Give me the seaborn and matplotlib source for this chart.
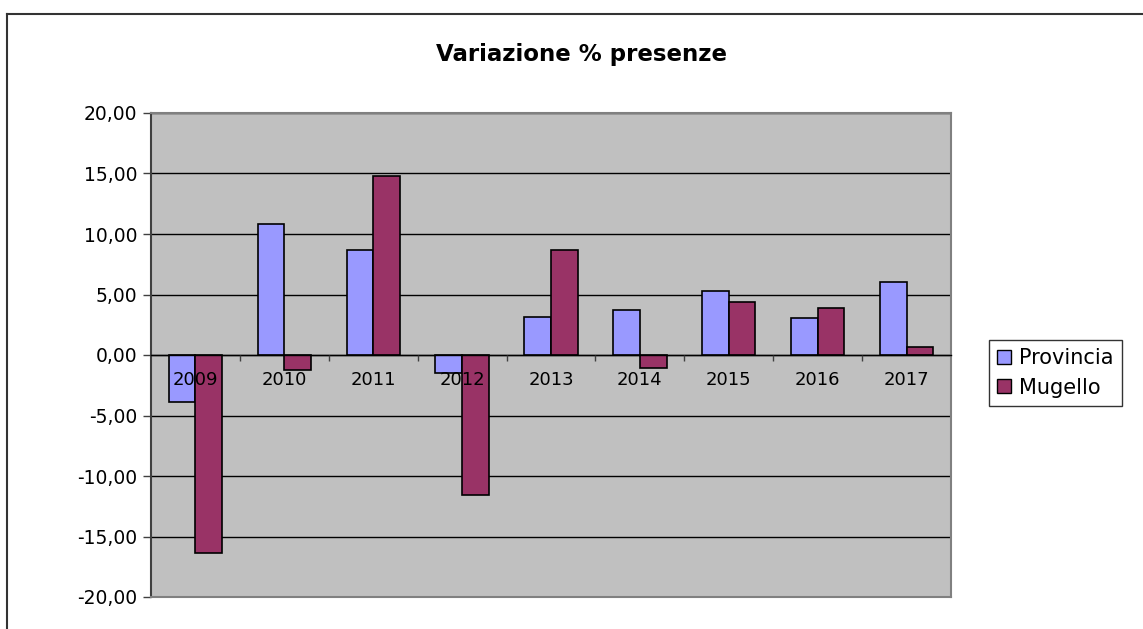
import matplotlib
matplotlib.use("Agg")
import matplotlib.pyplot as plt
from matplotlib.lines import Line2D
from matplotlib.ticker import FuncFormatter, MultipleLocator, FixedLocator
import numpy as np
import pandas as pd
import seaborn as sns

# Annual percentage change in overnight stays
years = ["2009", "2010", "2011", "2012", "2013", "2014", "2015", "2016", "2017"]
provincia = [-3.85, 10.8, 8.7, -1.5, 3.1, 3.7, 5.25, 3.05, 6.0]
mugello = [-16.4, -1.2, 14.8, -11.55, 8.7, -1.1, 4.4, 3.85, 0.65]
series_names = ["Provincia", "Mugello"]
colors = ["#9999FF", "#993366"]

df = pd.DataFrame({
    "anno": years * 2,
    "serie": [series_names[0]] * len(years) + [series_names[1]] * len(years),
    "valore": provincia + mugello,
})

plt.rcParams["font.family"] = ["DejaVu Sans"]

W, H = 1143, 629
fig = plt.figure(figsize=(W / 100, H / 100), dpi=100)
fig.patch.set_facecolor("white")

ax = fig.add_axes([151 / W, 1 - 597 / H, (951 - 151) / W, (597 - 113) / H])
ax.set_facecolor("#C0C0C0")

sns.barplot(data=df, x="anno", y="valore", hue="serie", hue_order=series_names,
            palette=colors, width=0.6, edgecolor="black", linewidth=1.2,
            saturation=1, errorbar=None, ax=ax, zorder=2)

ax.set_ylim(-20, 20)
ax.set_xlim(-0.5, len(years) - 0.5)
ax.set_xlabel("")
ax.set_ylabel("")

# horizontal gridlines behind the bars, category labels above them
ax.yaxis.set_major_locator(MultipleLocator(5))
ax.yaxis.set_major_formatter(FuncFormatter(lambda v, p: f"{v:.2f}".replace(".", ",")))
ax.grid(axis="y", color="black", linewidth=1)
ax.grid(axis="x", visible=False)
ax.set_axisbelow(True)
ax.xaxis.set_zorder(3)

# category axis sits on the zero line
ax.spines["bottom"].set_position(("data", 0))
ax.spines["bottom"].set_color("black")
ax.spines["bottom"].set_linewidth(1)
for side in ("top", "right"):
    ax.spines[side].set_color("#808080")
    ax.spines[side].set_linewidth(1.5)
ax.spines["left"].set_color("#404040")
ax.spines["left"].set_linewidth(1.5)
ax.axhline(-20, color="#808080", linewidth=1.5, clip_on=False, zorder=3)

ax.tick_params(axis="x", which="major", length=0, pad=11.5, labelsize=13, colors="black")
ax.xaxis.set_minor_locator(FixedLocator(np.arange(0.5, len(years) - 0.5, 1)))
ax.tick_params(axis="x", which="minor", length=4, direction="out", color="#404040", width=1)
ax.tick_params(axis="y", which="major", length=6, direction="out", color="#404040",
               width=1, pad=4, labelsize=13.5)

# legend at the right of the plot area
handles = [plt.Rectangle((0, 0), 1, 1, facecolor=c, edgecolor="black", linewidth=1)
           for c in colors]
leg = fig.legend(handles, series_names, loc="upper left",
                 bbox_to_anchor=(989 / W, 1 - 340 / H), bbox_transform=fig.transFigure,
                 frameon=True, fancybox=False, edgecolor="black", fontsize=15,
                 handlelength=0.65, handleheight=0.65, handletextpad=0.4,
                 borderpad=0.4, labelspacing=0.45, borderaxespad=0)
leg.get_frame().set_linewidth(1)
if ax.get_legend() is not None:
    ax.get_legend().remove()

fig.text(581 / W, 1 - 55 / H, "Variazione % presenze", ha="center", va="center",
         fontsize=16.5, fontweight="bold", color="black")

# outer chart frame
fig.add_artist(Line2D([7 / W, 7 / W], [0, 1 - 14 / H], transform=fig.transFigure,
                      color="#333333", linewidth=1.5))
fig.add_artist(Line2D([7 / W, 1], [1 - 14 / H, 1 - 14 / H], transform=fig.transFigure,
                      color="#333333", linewidth=1.5))

fig.savefig("out.png", dpi=100)
